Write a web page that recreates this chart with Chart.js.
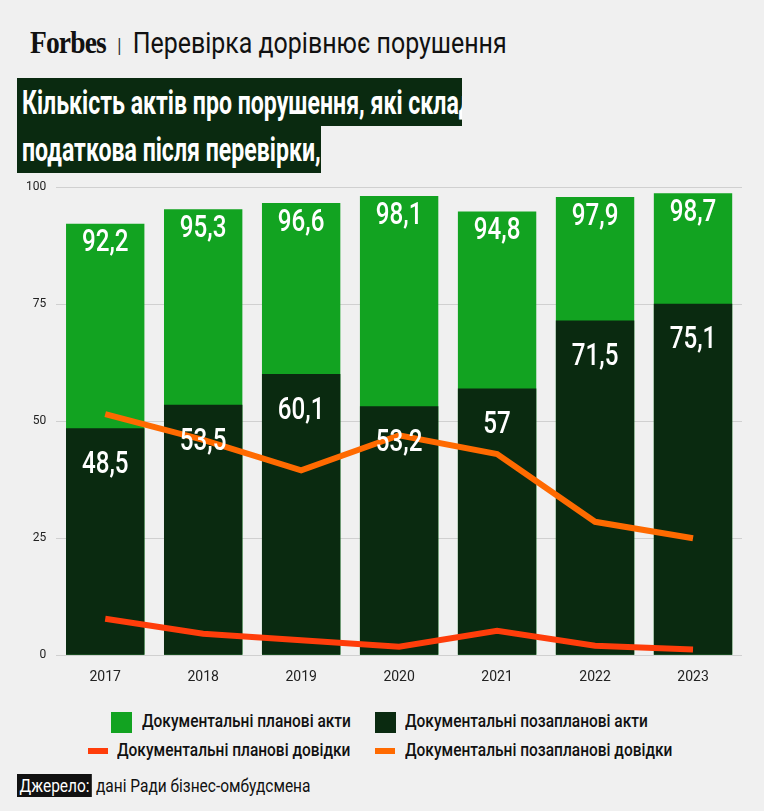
<!DOCTYPE html>
<html><head><meta charset="utf-8">
<script src="https://cdn.jsdelivr.net/npm/chart.js@4"></script>
<style>
body{margin:0;background:#f0f0f0;width:764px;height:811px;overflow:hidden;font-family:Roboto,sans-serif;position:relative}
.c{display:inline-block;transform-origin:left center;transform:scaleX(0.86);white-space:nowrap}
#hdr{position:absolute;left:30px;top:24px;font-size:29px;color:#111}
#hdr b{font-family:"Liberation Serif",serif;font-size:32px;font-weight:bold;letter-spacing:-1px}
#t1,#t2{position:absolute;left:17px;background:#0a2a10;color:#fff;font-weight:bold;font-size:34px;line-height:48px;padding:0 5px;box-sizing:border-box;overflow:hidden}
#t1 .c,#t2 .c{transform:scaleX(0.68)}
#t1{top:78px;width:445px}#t2{top:125px;width:304px}
#wrap{position:absolute;left:0;top:170px;width:764px;height:522px}
.lg{position:absolute;font-size:18px;font-weight:500;color:#111}
.sw{position:absolute}
#src{position:absolute;left:17px;top:775px;font-size:18px;color:#111}
#src .k{background:#111;color:#fff;padding:1px 3px}
</style></head><body>
<div id="hdr"><span class="c"><b>Forbes</b> <span style="font-size:20px;color:#333;padding:0 6px">|</span> Перевірка дорівнює порушення</span></div>
<div id="t1"><span class="c">Кількість актів про порушення, які складає</span></div>
<div id="t2"><span class="c">податкова після перевірки, %</span></div>
<div id="wrap"><canvas id="ch"></canvas></div>
<div class="sw" style="left:111px;top:712px;width:21px;height:21px;background:#12a321"></div>
<div class="lg" style="left:142px;top:710px"><span class="c">Документальні планові акти</span></div>
<div class="sw" style="left:375px;top:712px;width:21px;height:21px;background:#0a2a10"></div>
<div class="lg" style="left:405px;top:710px"><span class="c">Документальні позапланові акти</span></div>
<div class="sw" style="left:88px;top:748px;width:20px;height:6px;background:#ff3d0a"></div>
<div class="lg" style="left:117px;top:739px"><span class="c">Документальні планові довідки</span></div>
<div class="sw" style="left:375px;top:748px;width:20px;height:6px;background:#ff6a00"></div>
<div class="lg" style="left:405px;top:739px"><span class="c">Документальні позапланові довідки</span></div>
<div id="src"><span class="c"><span class="k">Джерело:</span> дані Ради бізнес-омбудсмена</span></div>
<script>
const years=["2017","2018","2019","2020","2021","2022","2023"];
const plannedActs=[92.2,95.3,96.6,98.1,94.8,97.9,98.7];
const unplannedActs=[48.5,53.5,60.1,53.2,57,71.5,75.1];
const plannedRefs=[7.8,4.6,3.2,1.8,5.2,2.0,1.2];
const unplannedRefs=[51.5,46,39.5,47,43,28.5,25];
const yTicks=[0,25,50,75,100];
const fmt=v=>String(v).replace('.',',');
const labels={id:'lbl',afterDatasetsDraw(c){
 const ctx=c.ctx;ctx.save();ctx.fillStyle='#fff';ctx.textAlign='center';ctx.textBaseline='middle';
 ctx.font='500 31px Roboto';
 [[0,20],[1,37]].forEach(([di,off])=>{
  c.getDatasetMeta(di).data.forEach((el,i)=>{
   const v=c.data.datasets[di].data[i];
   ctx.save();ctx.translate(el.x,el.y+off);ctx.scale(0.78,1);ctx.fillText(fmt(v),0,0);ctx.restore();
  });
 });ctx.restore();}};
new Chart(document.getElementById('ch'),{
 data:{labels:years,datasets:[
  {type:'bar',data:plannedActs,backgroundColor:'#12a321',grouped:false,barPercentage:0.8,categoryPercentage:1,order:3},
  {type:'bar',data:unplannedActs,backgroundColor:'#0a2a10',grouped:false,barPercentage:0.8,categoryPercentage:1,order:2},
  {type:'line',data:unplannedRefs,borderColor:'#ff6a00',borderWidth:6,pointRadius:0,tension:0,order:1},
  {type:'line',data:plannedRefs,borderColor:'#ff3d0a',borderWidth:6,pointRadius:0,tension:0,order:0}
 ]},
 plugins:[labels],
 options:{responsive:true,maintainAspectRatio:false,animation:false,
  layout:{padding:{left:16,right:22,top:14,bottom:0}},
  plugins:{legend:{display:false},tooltip:{enabled:false}},
  scales:{
   x:{offset:true,grid:{display:false},border:{display:false},ticks:{color:'#222',font:{family:'Roboto',size:14},padding:6}},
   y:{min:0,max:100,afterBuildTicks:a=>{a.ticks=yTicks.map(v=>({value:v}))},
      grid:{color:'#d0d0d0',drawTicks:false},border:{display:false},
      ticks:{color:'#222',font:{family:'Roboto',size:12},padding:10}}
  }}
});
</script></body></html>
